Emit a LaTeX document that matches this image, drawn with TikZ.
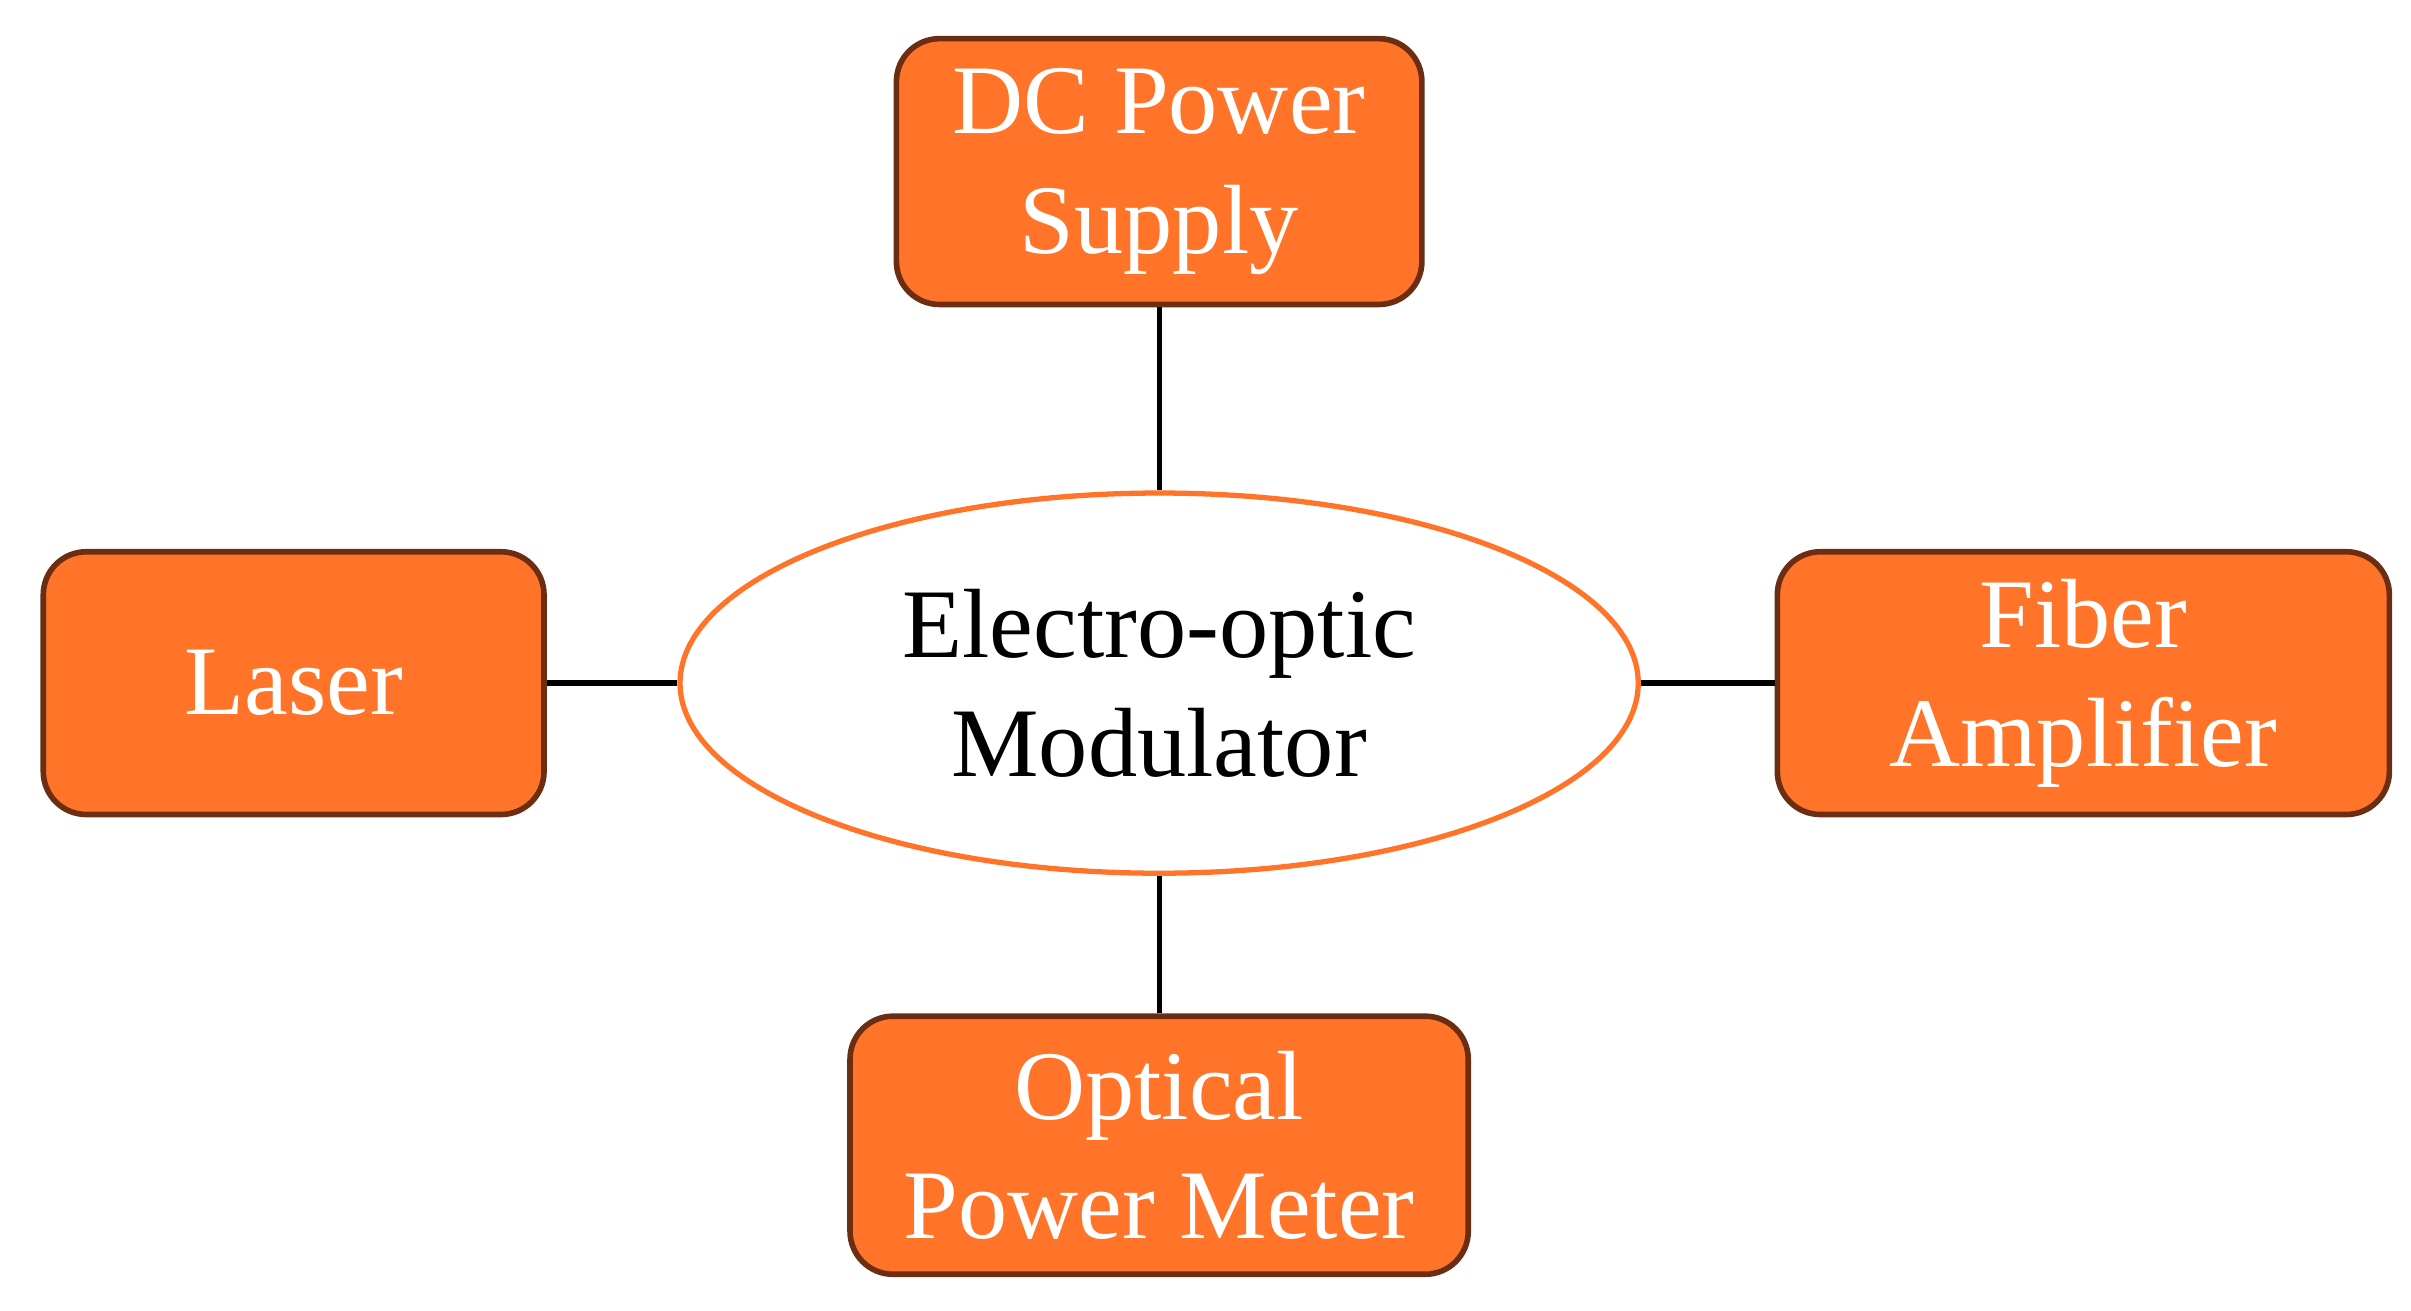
\documentclass[tikz,border=0pt]{standalone}
\usepackage{fontspec}
\setmainfont{Liberation Serif}
\usetikzlibrary{shapes.geometric}
\definecolor{orf}{HTML}{FF7428}
\definecolor{brd}{HTML}{6B2E12}
\begin{document}
\begin{tikzpicture}[x=0.01545cm,y=-0.01545cm,
  box/.style={draw=brd,line width=1.6pt,fill=orf,rounded corners=0.43cm,text=white,align=center,
    font=\fontsize{28}{34}\selectfont,inner sep=0pt},
  link/.style={draw=black,line width=1.5pt}]
\useasboundingbox (0,0) rectangle (1560,848);
\node[box,minimum width=340*0.01545cm,minimum height=172*0.01545cm] (dc) at (750,111) {DC Power\\Supply};
\node[box,minimum width=324*0.01545cm,minimum height=170*0.01545cm] (laser) at (190,442) {Laser};
\node[box,minimum width=396*0.01545cm,minimum height=170*0.01545cm] (fiber) at (1348,442) {Fiber\\Amplifier};
\node[box,minimum width=400*0.01545cm,minimum height=167*0.01545cm] (opm) at (750,741) {Optical\\Power Meter};
\node[ellipse,draw=orf,line width=1.5pt,fill=white,minimum width=620*0.01545cm,minimum height=246*0.01545cm,
  align=center,font=\fontsize{28}{34}\selectfont,inner sep=0pt] (eom) at (750,442) {Electro-optic\\Modulator};
\draw[link] (dc.south) -- (eom.north);
\draw[link] (laser.east) -- (eom.west);
\draw[link] (eom.east) -- (fiber.west);
\draw[link] (eom.south) -- (opm.north);
\end{tikzpicture}
\end{document}
